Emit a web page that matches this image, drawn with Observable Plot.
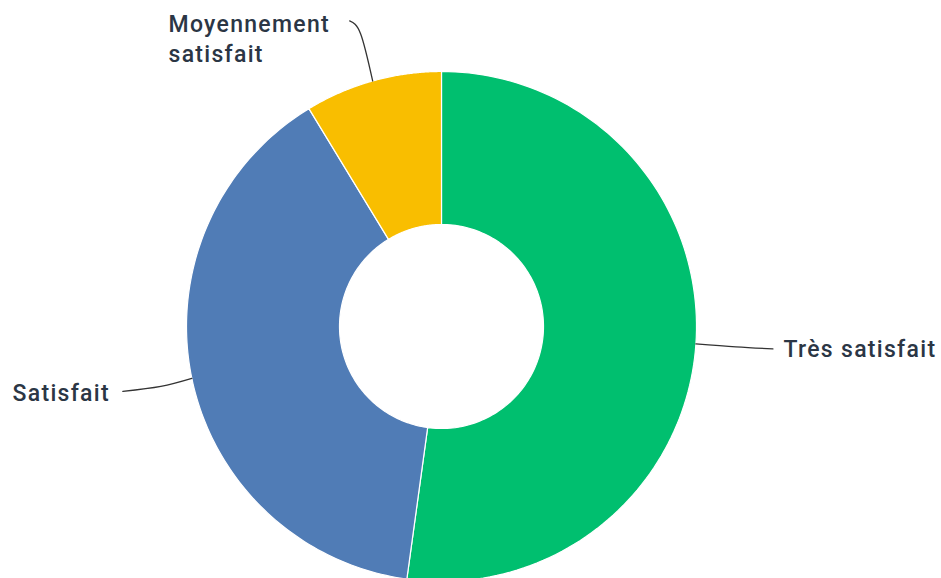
<!DOCTYPE html>
<html>
<head>
<meta charset="utf-8">
<script src="https://cdn.jsdelivr.net/npm/d3@7"></script>
<script src="https://cdn.jsdelivr.net/npm/@observablehq/plot@0.6"></script>
<style>
  html, body { margin: 0; padding: 0; background: #fff; }
  #chart { width: 941px; height: 578px; }
  #chart svg text { letter-spacing: 1.3px; }
</style>
</head>
<body>
<div id="chart"></div>
<script>
// ---- data ----
const categories = ["Très satisfait", "Satisfait", "Moyennement satisfait"];
const values = [52.17, 39.13, 8.70];
const labels = ["Très satisfait", "Satisfait", "Moyennement\nsatisfait"];
const colors = ["#00bf6f", "#507cb6", "#f9be00"];

// ---- layout constants (pixel-like units, centre of donut at 0,0) ----
const W = 941, H = 578;
const CX = 441, CY = 326;
const R_OUT = 255, R_IN = 102;

const pie = d3.pie().sort(null).value(d => d)(values);

function pt(r, a) { return {x: r * Math.sin(a), y: r * Math.cos(a)}; }

const slices = pie.map((p, i) => {
  const n = 120;
  const pts = [];
  for (let k = 0; k <= n; k++) {
    const a = p.startAngle + (p.endAngle - p.startAngle) * k / n;
    pts.push(pt(R_OUT, a));
  }
  for (let k = n; k >= 0; k--) {
    const a = p.startAngle + (p.endAngle - p.startAngle) * k / n;
    pts.push(pt(R_IN, a));
  }
  pts.push(pts[0]);
  return {cat: categories[i], color: colors[i], pts, mid: (p.startAngle + p.endAngle) / 2};
});

// leader line shapes: offsets from slice edge (pixels, y down)
const leaderShape = {
  "Très satisfait": [[0, 0], [40, 3], [77, 5]],
  "Satisfait": [[0, 0], [-31, 8], [-69, 13]],
  "Moyennement satisfait": [[0, 0], [-12, -47], [-23, -60]]
};
const labelPos = {
  "Très satisfait": {x: 783, y: 347},
  "Satisfait": {x: 12, y: 391},
  "Moyennement satisfait": {x: 168, y: 37}
};

const leaders = [];
slices.forEach(s => {
  const e = pt(R_OUT, s.mid);
  leaderShape[s.cat].forEach(([dx, dy]) => {
    leaders.push({cat: s.cat, x: e.x + dx, y: e.y - dy});
  });
});
const labelRows = categories.map((c, i) => ({
  cat: c, label: labels[i],
  x: labelPos[c].x - CX, y: CY - labelPos[c].y
}));

const marks = [];
slices.forEach(s => {
  marks.push(Plot.line(s.pts, {x: "x", y: "y", fill: s.color, stroke: "#ffffff", strokeWidth: 1.2, strokeLinejoin: "round"}));
});
marks.push(Plot.line(leaders, {x: "x", y: "y", z: "cat", stroke: "#333333", strokeWidth: 1.3, curve: "natural"}));
marks.push(Plot.text(labelRows, {
  x: "x", y: "y", text: "label", textAnchor: "start",
  fontSize: 23, fontWeight: 500, fill: "#2b3645", lineHeight: 1.32,
  fontFamily: "Roboto, sans-serif"
}));

const chart = Plot.plot({
  width: W, height: H,
  margin: 0,
  x: {domain: [-CX, W - CX], axis: null},
  y: {domain: [CY - H, CY], axis: null},
  style: {background: "#fff"},
  marks
});
document.getElementById("chart").appendChild(chart);
</script>
</body>
</html>
